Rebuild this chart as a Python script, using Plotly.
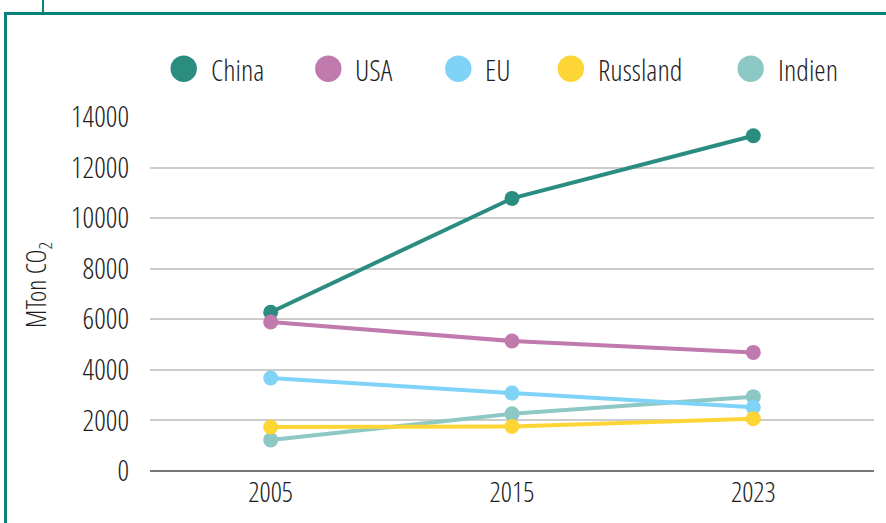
import plotly.graph_objects as go

years = ["2005", "2015", "2023"]
series_names = ["China", "USA", "EU", "Russland", "Indien"]
china = [6280, 10780, 13260]
usa = [5890, 5140, 4690]
eu = [3680, 3080, 2520]
russland = [1740, 1760, 2070]
indien = [1230, 2260, 2940]
y_ticks = [0, 2000, 4000, 6000, 8000, 10000, 12000, 14000]

colors = {
    "China": "#2b8c80",
    "USA": "#c07aae",
    "EU": "#7ed3f7",
    "Russland": "#fdd535",
    "Indien": "#8dc8c4",
}
values = {"China": china, "USA": usa, "EU": eu, "Russland": russland, "Indien": indien}
draw_order = ["China", "USA", "Indien", "EU", "Russland"]

FONT = "Open Sans Condensed Light, Open Sans"
TXT = "#1e1e1e"

fig = go.Figure()
for name in draw_order:
    fig.add_trace(go.Scatter(
        x=years, y=values[name], name=name, mode="lines+markers",
        line=dict(color=colors[name], width=4),
        marker=dict(color=colors[name], size=15),
        showlegend=False,
    ))

L, R, T, B = 150, 874, 117, 471
W, H = R - L, B - T
def px_x(px):
    return (px - L) / W
def px_y(py):
    return (B - py) / H

shapes = []
annotations = []
frame_col = "#0b8277"
shapes.append(dict(type="line", xref="paper", yref="paper",
                   x0=px_x(5.5), x1=px_x(5.5), y0=px_y(13.5), y1=px_y(530),
                   line=dict(color=frame_col, width=3)))
shapes.append(dict(type="line", xref="paper", yref="paper",
                   x0=px_x(4), x1=px_x(890), y0=px_y(13.5), y1=px_y(13.5),
                   line=dict(color=frame_col, width=3)))
shapes.append(dict(type="line", xref="paper", yref="paper",
                   x0=px_x(43), x1=px_x(43), y0=px_y(-5), y1=px_y(13.5),
                   line=dict(color=frame_col, width=2)))

legend_cx = [183.7, 328.3, 458.3, 570.8, 750.7]
legend_cy = 68.7
r = 13.2
for name, cx in zip(series_names, legend_cx):
    shapes.append(dict(type="circle", xref="paper", yref="paper",
                       x0=px_x(cx - r), x1=px_x(cx + r),
                       y0=px_y(legend_cy + r), y1=px_y(legend_cy - r),
                       fillcolor=colors[name], line=dict(width=0)))
    annotations.append(dict(xref="paper", yref="paper", x=px_x(cx + 25), y=px_y(legend_cy + 1),
                            text=name, showarrow=False, xanchor="left", yanchor="middle",
                            font=dict(family=FONT, size=29, color=TXT, weight=300)))

annotations.append(dict(xref="paper", yref="paper", x=px_x(37), y=px_y(285),
                        text="MTon CO<sub>2</sub>", showarrow=False, textangle=-90,
                        xanchor="center", yanchor="middle",
                        font=dict(family=FONT, size=27, color=TXT, weight=300)))

fig.update_layout(
    width=886, height=523,
    margin=dict(l=L, r=886 - R, t=T, b=523 - B),
    paper_bgcolor="white", plot_bgcolor="white",
    showlegend=False,
    shapes=shapes, annotations=annotations,
    font=dict(family=FONT, color=TXT, weight=300),
)
fig.update_xaxes(
    type="category", range=[-0.5, 2.5], showgrid=False, showline=False,
    zeroline=False, ticks="", tickfont=dict(family=FONT, size=28, color=TXT, weight=300),
    ticklabelstandoff=2, automargin=False,
)
fig.update_yaxes(
    range=[0, 14000], tickvals=y_ticks, tickformat="d",
    showgrid=True, gridcolor="#cccccc", gridwidth=2,
    zeroline=True, zerolinecolor="#777777", zerolinewidth=2, showline=False,
    ticks="", tickfont=dict(family=FONT, size=29, color=TXT, weight=300),
    ticklabelstandoff=20, automargin=False,
)

post = (
    "document.body.style.margin='0';"
    "var s=document.createElement('style');"
    "s.textContent='svg text{font-stretch:condensed !important;}';"
    "document.head.appendChild(s);"
)
fig.write_html("out.html", post_script=post, config={"displayModeBar": False})
